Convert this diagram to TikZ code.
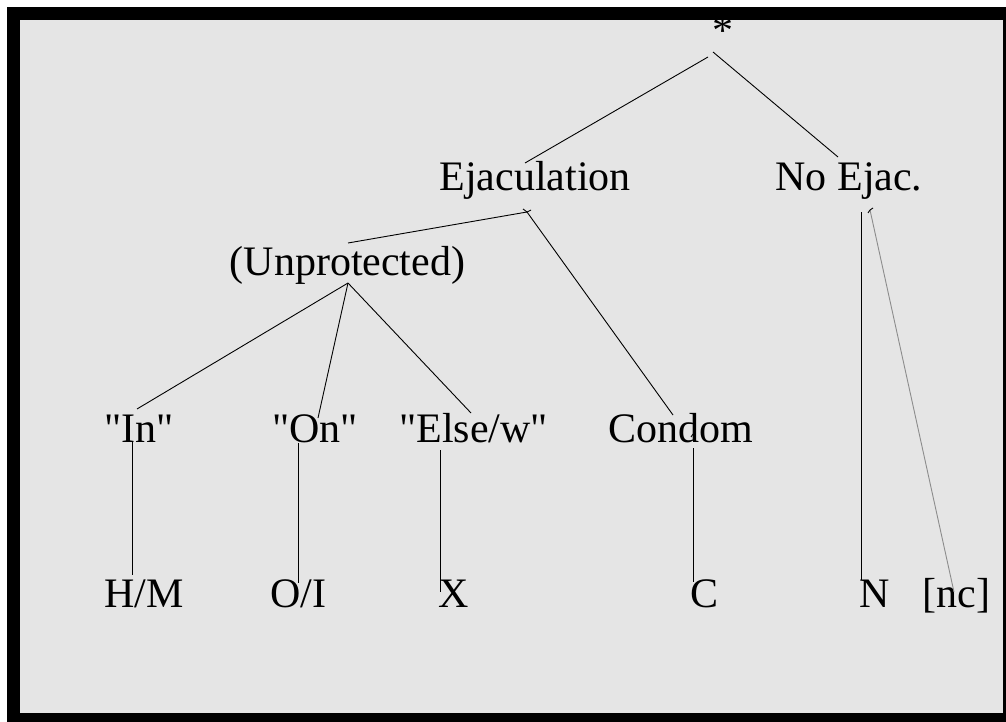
\documentclass[tikz,border=0pt]{standalone}
\usepackage{fontspec}
\setmainfont{Liberation Serif}[Ligatures=TeXOff]
\definecolor{panel}{HTML}{E5E5E5}
\definecolor{faint}{HTML}{8C8C8C}
\begin{document}
\begin{tikzpicture}[x=1pt,y=-1pt,
  lbl/.style={font=\fontsize{42}{48}\selectfont, anchor=base, inner sep=0pt},
  edge/.style={draw=black, line width=0.9pt},
  faintedge/.style={draw=faint, line width=0.9pt},
  tick/.style={draw=black, line width=0.9pt}]
  % page, frame and panel
  \fill[white] (0,0) rectangle (1006,722);
  \useasboundingbox (0,0) rectangle (1006,722);
  \fill[black] (7,7) rectangle (1006,722);
  \fill[panel] (20,20) rectangle (1003,713);

  % labels
  \node[lbl] (root)   at (723,45)  {*};
  \node[lbl] (ejac)   at (535,191) {Ejaculation};
  \node[lbl] (noejac) at (849,191) {No Ejac.};
  \node[lbl] (unprot) at (347.5,275) {(Unprotected)};
  \node[lbl] (in)     at (139,442) {"In"};
  \node[lbl] (on)     at (315,442) {"On"};
  \node[lbl] (else)   at (473.5,442) {"Else/w"};
  \node[lbl] (condom) at (681,442) {Condom};
  \node[lbl] (hm)     at (144,607) {H/M};
  \node[lbl] (oi)     at (298.5,607) {O/I};
  \node[lbl] (x)      at (454,607) {X};
  \node[lbl] (c)      at (704.5,607) {C};
  \node[lbl] (n)      at (875,607) {N};
  \node[lbl] (nc)     at (956.5,607) {[nc]};

  % connector end points
  \coordinate (rootL) at (708,57);
  \coordinate (rootR) at (713,52);
  \coordinate (ejacT) at (525,163);
  \coordinate (noejacT) at (838,157);
  \coordinate (ejacB) at (527,212);
  \coordinate (unprotT) at (348,243);
  \coordinate (unprotB) at (348,283);
  \coordinate (inT) at (137,409);
  \coordinate (onT) at (318,418);
  \coordinate (elseT) at (471,413);
  \coordinate (condomT) at (673,415);
  \coordinate (inB) at (132,442);
  \coordinate (hmT) at (132,575);
  \coordinate (onB) at (298,443);
  \coordinate (oiT) at (298,583);
  \coordinate (elseB) at (440,450);
  \coordinate (xT) at (440,592);
  \coordinate (condomB) at (693,448);
  \coordinate (cT) at (693,582);
  \coordinate (noejacB) at (861,212);
  \coordinate (nT) at (861,580);
  \coordinate (noejacB2) at (870,210);
  \coordinate (ncT) at (954,592);

  % tree connectors
  \draw[edge] (rootL) -- (ejacT);
  \draw[edge] (rootR) -- (noejacT);
  \draw[edge] (ejacB) -- (unprotT);
  \draw[edge] (ejacB) -- (condomT);
  \draw[edge] (unprotB) -- (inT);
  \draw[edge] (unprotB) -- (onT);
  \draw[edge] (unprotB) -- (elseT);
  \draw[edge] (inB) -- (hmT);
  \draw[edge] (onB) -- (oiT);
  \draw[edge] (elseB) -- (xT);
  \draw[edge] (condomB) -- (cT);
  \draw[edge] (noejacB) -- (nT);
  \draw[faintedge] (noejacB2) -- (ncT);

  % small pen marks where strokes begin
  \draw[tick] (ejacB) -- ++(-4,-3);
  \draw[tick] (ejacB) -- ++(4,-2);
  \draw[tick] ([yshift=14pt]condomB) -- ++(-2,3);
  \draw[tick] (noejacB2) -- ++(-2,3);
  \draw[tick] (noejacB2) -- ++(3,-2);
\end{tikzpicture}
\end{document}
